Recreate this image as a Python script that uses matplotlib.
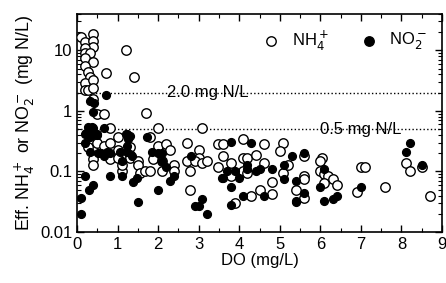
import numpy as np
import matplotlib
matplotlib.use("Agg")
import matplotlib.pyplot as plt
from matplotlib.ticker import MultipleLocator, LogLocator, FixedLocator, NullFormatter

plt.rcParams['font.family'] = ['Liberation Sans', 'DejaVu Sans']

# NH4+ (open circles): DO (mg/L), effluent concentration (mg N/L)
nh4_do = [0.1, 0.2, 0.4, 0.4, 0.4, 0.2, 0.2, 0.32, 0.2, 0.4, 0.2, 0.27, 0.32, 0.2,
          0.4, 0.2, 0.27, 0.4, 0.4, 0.7, 1.2, 1.4, 0.5, 0.65, 1.7,
          0.8, 1.0, 0.4, 0.5, 0.65, 0.8, 0.4, 0.4, 0.8, 1.0, 1.0, 1.1, 1.1, 1.3, 1.3,
          1.3, 1.5, 1.5, 1.55, 1.67, 1.8, 0.27,
          2.0, 3.08, 2.7, 1.8, 2.0, 2.2, 2.3, 1.87, 2.1, 2.1, 2.4, 2.4, 3.0, 3.0, 2.7,
          2.9, 3.08, 3.2, 2.78, 2.78, 3.48, 3.6, 3.48,
          4.1, 5.07, 5.0, 3.6, 3.8, 4.1, 4.2, 4.4, 4.6, 4.1, 3.8, 4.2, 5.07, 5.2, 4.8,
          4.5, 4.3, 4.8, 5.4, 3.9, 4.6,
          5.6, 5.6, 5.6, 5.6, 6.05, 6.0, 6.0, 6.1, 6.2, 6.3, 6.4, 6.1, 7.0, 7.1, 6.9,
          7.6, 8.1, 8.2, 8.5, 8.7]
nh4_conc = [16.4, 13.5, 18.3, 14.0, 11.2, 11.0, 9.0, 9.0, 7.4, 6.4, 5.5, 4.4, 3.6, 2.9,
            3.2, 2.2, 2.2, 2.4, 1.6, 4.2, 10.0, 3.6, 0.9, 0.9, 0.92,
            0.52, 0.37, 0.23, 0.3, 0.26, 0.3, 0.16, 0.13, 0.16, 0.23, 0.17, 0.1, 0.13,
            0.25, 0.19, 0.17, 0.15, 0.13, 0.095, 0.1, 0.1, 0.25,
            0.52, 0.52, 0.29, 0.37, 0.26, 0.28, 0.23, 0.16, 0.15, 0.1, 0.13, 0.1, 0.23,
            0.17, 0.15, 0.15, 0.14, 0.15, 0.1, 0.05, 0.28, 0.28, 0.12,
            0.34, 0.3, 0.22, 0.18, 0.14, 0.17, 0.17, 0.19, 0.14, 0.1, 0.083, 0.095,
            0.095, 0.13, 0.068, 0.05, 0.04, 0.042, 0.05, 0.03, 0.28,
            0.18, 0.083, 0.074, 0.036, 0.17, 0.15, 0.1, 0.09, 0.083, 0.074, 0.06,
            0.065, 0.12, 0.12, 0.045,
            0.055, 0.14, 0.1, 0.12, 0.04]

# NO2- (filled circles)
no2_do = [0.32, 0.42, 0.72, 0.4, 0.27, 0.4, 0.65, 0.2, 0.32, 0.48, 1.23, 1.26, 1.72,
          0.37, 0.22, 0.37, 0.5, 1.2, 1.3, 0.2, 0.32, 0.52, 0.6, 0.73, 0.65, 0.8,
          1.05, 1.22, 1.22, 1.35, 1.1, 0.2, 0.4, 0.3, 0.8, 1.1, 1.38, 1.47, 0.1, 0.1,
          1.5,
          1.85, 2.0, 2.1, 2.1, 2.2, 2.3, 2.4, 2.0, 2.8, 2.9, 3.0, 3.08, 3.2, 3.58,
          3.8, 4.3, 3.6, 3.7, 3.9, 4.0, 4.2, 4.2, 4.4, 4.5, 4.8, 3.8, 3.8, 4.1, 4.6,
          5.1, 5.3, 5.1, 5.4,
          5.6, 5.6, 5.4, 6.1, 6.0, 6.1, 6.3, 6.4, 7.0, 5.4,
          8.2, 8.1, 8.5]
no2_conc = [1.45, 1.35, 1.8, 0.97, 0.55, 0.52, 0.52, 0.42, 0.37, 0.4, 0.42, 0.34, 0.37,
            0.55, 0.43, 0.4, 0.42, 0.42, 0.38, 0.3, 0.21, 0.2, 0.2, 0.21, 0.18, 0.2,
            0.21, 0.21, 0.26, 0.18, 0.15, 0.083, 0.06, 0.05, 0.083, 0.083, 0.068,
            0.077, 0.037, 0.02, 0.031,
            0.21, 0.2, 0.2, 0.15, 0.12, 0.07, 0.083, 0.05, 0.18, 0.027, 0.027, 0.035,
            0.02, 0.077,
            0.31, 0.3, 0.077, 0.1, 0.1, 0.077, 0.13, 0.11, 0.1, 0.11, 0.11, 0.055,
            0.028, 0.04, 0.039, 0.075, 0.18, 0.13, 0.031,
            0.2, 0.044, 0.032, 0.11, 0.055, 0.032, 0.035, 0.04, 0.055, 0.07,
            0.3, 0.21, 0.13]

limits = [2.0, 0.5]
limit_labels = ["2.0 mg N/L", "0.5 mg N/L"]
label_x = [2.22, 5.98]

fig = plt.figure(figsize=(4.46, 2.83), dpi=100)
ax = fig.add_axes([0.173, 0.180, 0.818, 0.771])

for y in limits:
    ax.axhline(y, color='black', linestyle=':', linewidth=1.0, zorder=1)
for x, y, lab in zip(label_x, limits, limit_labels):
    ax.text(x, y, lab, fontsize=12, va='center', ha='left', zorder=2)

ax.plot(nh4_do, nh4_conc, 'o', markersize=6.8, markerfacecolor='white',
        markeredgecolor='black', markeredgewidth=1.0, linestyle='none', zorder=3)
ax.plot(no2_do, no2_conc, 'o', markersize=5.6, markerfacecolor='black',
        markeredgecolor='black', linestyle='none', zorder=4)

ax.set_yscale('log')
ax.set_xlim(0, 9)
ax.set_ylim(0.01, 40)
ax.xaxis.set_major_locator(MultipleLocator(1))
ax.xaxis.set_minor_locator(MultipleLocator(0.5))
ax.yaxis.set_major_locator(FixedLocator([0.01, 0.1, 1, 10]))
ax.yaxis.set_minor_locator(LogLocator(base=10, subs=np.arange(2, 10)))
ax.yaxis.set_minor_formatter(NullFormatter())
ax.set_yticklabels(['0.01', '0.1', '1', '10'])
ax.tick_params(which='both', direction='in', top=True, right=True, labelsize=12)
ax.tick_params(which='major', length=5, width=1.0)
ax.tick_params(which='minor', length=3, width=0.8)
for s in ax.spines.values():
    s.set_linewidth(1.2)

ax.set_xlabel('DO (mg/L)', fontsize=12, labelpad=1)
ax.set_ylabel('Eff. NH$_4^+$ or NO$_2^-$ (mg N/L)', fontsize=12.8, labelpad=2)

# legend drawn as text with markers
ax.plot([4.78], [14.5], 'o', markersize=6.8, markerfacecolor='white',
        markeredgecolor='black', markeredgewidth=1.0)
ax.text(5.3, 14.5, 'NH$_4^+$', fontsize=12, va='center')
ax.plot([7.2], [14.5], 'o', markersize=6.8, markerfacecolor='black', markeredgecolor='black')
ax.text(7.7, 14.5, 'NO$_2^-$', fontsize=12, va='center')

fig.savefig('out.png', dpi=100)
